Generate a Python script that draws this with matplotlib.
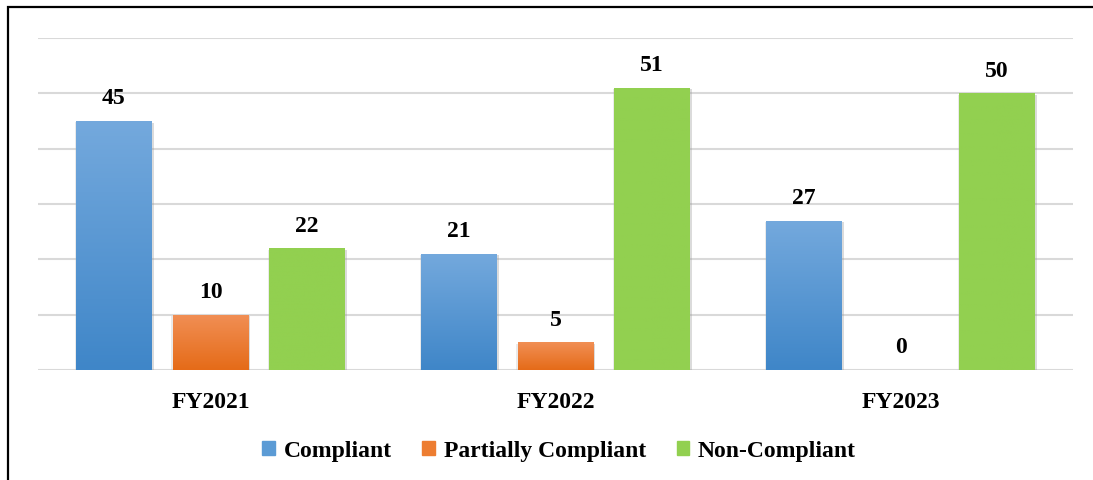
import matplotlib.pyplot as plt
import matplotlib.patheffects as pe
from matplotlib.colors import LinearSegmentedColormap
from matplotlib.patches import Rectangle
import numpy as np

# Data
years = ["FY2021", "FY2022", "FY2023"]
series = ["Compliant", "Partially Compliant", "Non-Compliant"]
compliant = [45, 21, 27]
partial = [10, 5, 0]
non_compliant = [22, 51, 50]

# colours: (top, bottom) of each bar gradient
grads = [("#74a9dd", "#3f86c8"), ("#f18f55", "#e56b18"), ("#92d050", "#92d050")]
legend_cols = ["#5b9bd5", "#ed7d31", "#92d050"]

plt.rcParams['font.family'] = ["Liberation Serif", "DejaVu Serif"]
plt.rcParams['font.weight'] = "bold"

fig = plt.figure(figsize=(10.93, 4.8), dpi=100)
ax = fig.add_axes([38 / 1093, 1 - 370 / 480, 1035 / 1093, 332 / 480])

x = np.arange(len(years))
width = 0.22
offsets = [-0.28, 0.0, 0.28]
values = [compliant, partial, non_compliant]

shadow = [pe.SimplePatchShadow(offset=(1.2, -1.2), shadow_rgbFace="#999999", alpha=0.35),
          pe.SimplePatchShadow(offset=(-1.0, -1.0), shadow_rgbFace="#bbbbbb", alpha=0.3),
          pe.Normal()]

handles = []
for vals, off, (c_top, c_bot), lc, name in zip(values, offsets, grads, legend_cols, series):
    bars = ax.bar(x + off, vals, width, color=lc, zorder=2)
    handles.append(Rectangle((0, 0), 1, 1, color=lc, label=name))
    for b, v in zip(bars, vals):
        if v > 0:
            b.set_path_effects(shadow)
            grad = np.linspace(0, 1, 256).reshape(-1, 1)
            cm = LinearSegmentedColormap.from_list("g", [c_bot, c_top])
            im = ax.imshow(grad, cmap=cm, origin="lower", aspect="auto",
                           extent=(b.get_x(), b.get_x() + b.get_width(), 0, v), zorder=3)
            im.set_clip_path(b)
        ax.annotate(f"{v}", (b.get_x() + b.get_width() / 2, v), xytext=(0, 12),
                    textcoords="offset points", ha="center", va="baseline",
                    fontsize=17, fontweight="bold", zorder=4)

ax.set_xlim(-0.5, 2.5)
ax.set_ylim(0, 60)
ax.set_yticks(np.arange(0, 61, 10))
ax.set_yticklabels([])
ax.yaxis.grid(True, color="#d9d9d9", linewidth=1.5, zorder=0)
ax.set_axisbelow(True)
ax.tick_params(axis="y", length=0)
ax.set_xticks(x)
ax.set_xticklabels(years, fontsize=17, fontweight="bold")
ax.tick_params(axis="x", length=0, pad=16)
for s in ax.spines.values():
    s.set_visible(False)

fig.legend(handles=handles, loc="center", bbox_to_anchor=(559 / 1093, 1 - 451 / 480), ncol=3,
           frameon=False, prop={"size": 17, "weight": "bold"}, handlelength=0.55,
           handleheight=0.55, handletextpad=0.35, columnspacing=1.3)

# outer frame (partly cropped in the reference)
fig.patches.append(Rectangle((8 / 1093, -0.1), 1.2, 1.1 - 7 / 480, transform=fig.transFigure,
                             fill=False, edgecolor="black", linewidth=1.6))

fig.savefig("out.png", dpi=100)
